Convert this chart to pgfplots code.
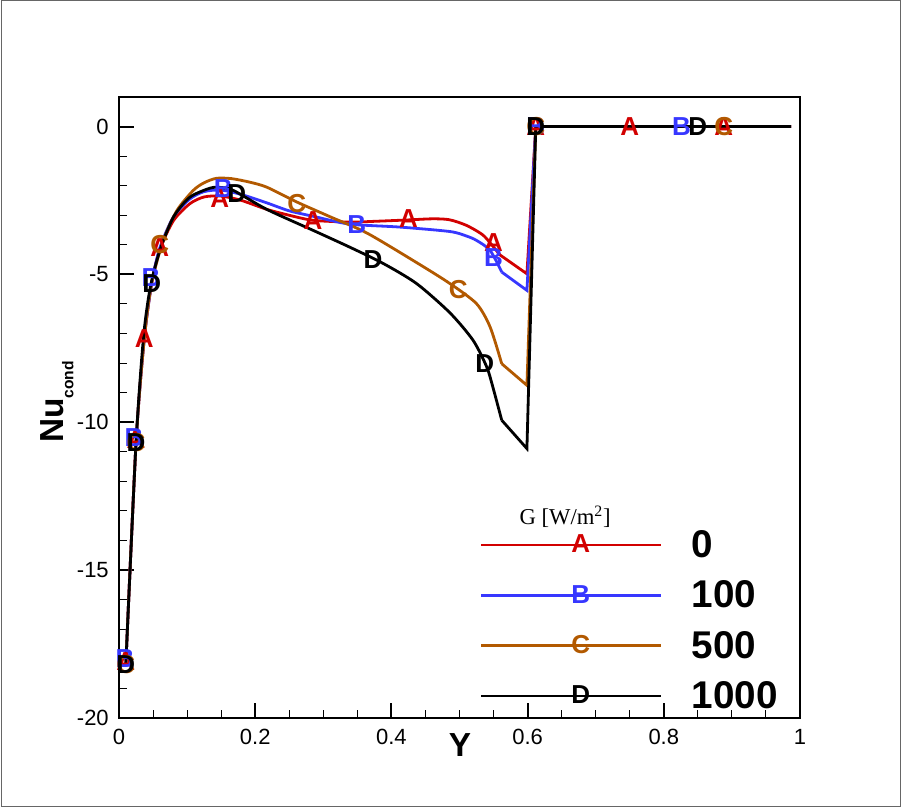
\documentclass[border=0pt]{standalone}
\usepackage{fontspec}
\setmainfont{Liberation Sans}
\newfontfamily\serifG{Liberation Serif}
\usepackage{pgfplots}
\pgfplotsset{compat=1.18}
\definecolor{cA}{RGB}{210,0,0}
\definecolor{cB}{RGB}{55,55,255}
\definecolor{cC}{RGB}{178,89,0}
\newcommand{\mkfont}{\bfseries\fontsize{19.5}{19.5}\selectfont}
\begin{document}
\begin{tikzpicture}
\useasboundingbox (0,0) rectangle (682.5pt,606.75pt);
\draw[black!60, line width=0.75pt] (0.75pt,1.5pt) rectangle (675pt,606pt);
\begin{axis}[
  at={(89.25pt,68.25pt)}, anchor=south west,
  scale only axis, width=510.75pt, height=465.75pt,
  xmin=0, xmax=1, ymin=-20, ymax=1,
  axis line style={line width=2pt},
  tick align=inside, xtick pos=bottom, ytick pos=left,
  xtick={0,0.2,0.4,0.6,0.8,1}, minor x tick num=3,
  ytick={-20,-15,-10,-5,0}, minor y tick num=4,
  major tick length=11.25pt, minor tick length=6pt,
  every major tick/.append style={line width=1.5pt, black},
  every minor tick/.append style={line width=0.75pt, black},
  /pgf/number format/assume math mode=true,
  ticklabel style={font=\fontsize{16.5}{16.5}\selectfont},
  xticklabel style={inner sep=0pt, yshift=-8.5pt},
  yticklabel style={inner sep=0pt, xshift=-7.5pt},
  xlabel={\bfseries Y},
  xlabel style={at={(axis description cs:0.5007,-0.0435)}, anchor=center, font=\fontsize{25}{25}\selectfont},
  ylabel={\bfseries Nu\raisebox{-7.5pt}{\fontsize{11.7}{11.7}\selectfont\bfseries cond}},
  ylabel style={at={(axis description cs:-0.091,0.509)}, anchor=center, font=\fontsize{25}{25}\selectfont},
  legend style={at={(axis description cs:0.530,0.157)}, anchor=west, draw=none, fill=none,
    inner sep=0pt, outer sep=0pt, column sep=22pt, row sep=16pt,
    font=\bfseries\fontsize{29}{29}\selectfont, nodes={inner sep=0pt}},
  legend cell align=left,
  legend image code/.code={\draw[mark repeat=2,mark phase=2,#1] plot coordinates {(0pt,0pt) (67.5pt,0pt) (135pt,0pt)};},
]
% ---- lines: smooth part ----
\addplot[cA, line width=2.1pt, no marks, smooth, tension=0.45, forget plot] table {
0.010 -18.2
0.025 -10.7
0.037 -7.2
0.048 -5.3
0.060 -4.15
0.080 -3.18
0.104 -2.61
0.125 -2.38
0.150 -2.35
0.180 -2.5
0.217 -2.80
0.250 -3.0
0.285 -3.17
0.339 -3.23
0.380 -3.2
0.422 -3.16
0.460 -3.12
0.485 -3.15
0.510 -3.34
0.535 -3.68
0.554 -4.19
};
\addplot[cA, line width=2.1pt, no marks, forget plot] table {
0.554 -4.19
0.560 -4.35
0.599 -4.98
0.612 0
0.987 0
};
\addplot[cB, line width=2.1pt, no marks, smooth, tension=0.45, forget plot] table {
0.010 -18.2
0.025 -10.7
0.037 -7.2
0.048 -5.3
0.060 -4.1
0.080 -3.05
0.104 -2.45
0.125 -2.2
0.150 -2.15
0.180 -2.3
0.217 -2.58
0.250 -2.85
0.290 -3.06
0.339 -3.30
0.413 -3.40
0.486 -3.55
0.510 -3.7
0.525 -3.85
0.545 -4.19
0.562 -4.92
};
\addplot[cB, line width=2.1pt, no marks, forget plot] table {
0.562 -4.92
0.599 -5.54
0.612 0
0.987 0
};
\addplot[cC, line width=2.1pt, no marks, smooth, tension=0.45, forget plot] table {
0.010 -18.2
0.025 -10.7
0.037 -7.2
0.048 -5.3
0.065 -3.85
0.085 -2.84
0.109 -2.16
0.125 -1.9
0.143 -1.75
0.165 -1.76
0.192 -1.88
0.217 -2.05
0.261 -2.55
0.310 -3.05
0.364 -3.6
0.437 -4.6
0.486 -5.31
0.525 -5.99
0.545 -6.78
0.562 -8.02
};
\addplot[cC, line width=2.1pt, no marks, forget plot] table {
0.562 -8.02
0.599 -8.75
0.612 0
0.987 0
};
\addplot[black, line width=2.1pt, no marks, smooth, tension=0.45, forget plot] table {
0.010 -18.2
0.025 -10.7
0.036 -7.12
0.046 -5.43
0.060 -4.19
0.080 -3.06
0.104 -2.39
0.134 -2.08
0.150 -2.06
0.168 -2.16
0.217 -2.8
0.285 -3.51
0.339 -4.08
0.388 -4.63
0.437 -5.31
0.486 -6.3
0.520 -7.23
0.540 -8.13
0.549 -8.81
0.562 -9.93
};
\addplot[black, line width=2.1pt, no marks, forget plot] table {
0.562 -9.93
0.599 -10.89
0.612 0
0.987 0
};
% ---- symbols ----
\addplot[cA, only marks, mark=text, text mark={A}, text mark as node=true, text mark style={font=\mkfont, inner sep=0pt}, forget plot] table {
0.010 -18.1
0.025 -10.6
0.037 -7.16
0.060 -4.09
0.148 -2.44
0.285 -3.18
0.425 -3.12
0.550 -3.91
0.612 0
0.750 0
0.888 0
};
\addplot[cB, only marks, mark=text, text mark={B}, text mark as node=true, text mark style={font=\mkfont, inner sep=0pt}, forget plot] table {
0.009 -18.0
0.022 -10.5
0.047 -5.1
0.153 -2.1
0.349 -3.32
0.550 -4.42
0.612 0
0.826 0
};
\addplot[cC, only marks, mark=text, text mark={C}, text mark as node=true, text mark style={font=\mkfont, inner sep=0pt}, forget plot] table {
0.010 -18.2
0.025 -10.7
0.060 -4.0
0.261 -2.6
0.498 -5.52
0.612 0
0.888 0
};
\addplot[black, only marks, mark=text, text mark={D}, text mark as node=true, text mark style={font=\mkfont, inner sep=0pt}, forget plot] table {
0.010 -18.2
0.025 -10.7
0.048 -5.3
0.173 -2.25
0.373 -4.5
0.537 -8.0
0.612 0
0.850 0
};
% ---- legend ----
\addlegendimage{cA, line width=2pt, mark=text, text mark={A}, text mark as node=true, text mark style={font=\mkfont, inner sep=0pt}}
\addlegendentry{0}
\addlegendimage{cB, line width=2pt, mark=text, text mark={B}, text mark as node=true, text mark style={font=\mkfont, inner sep=0pt}}
\addlegendentry{100}
\addlegendimage{cC, line width=2pt, mark=text, text mark={C}, text mark as node=true, text mark style={font=\mkfont, inner sep=0pt}}
\addlegendentry{500}
\addlegendimage{black, line width=2pt, mark=text, text mark={D}, text mark as node=true, text mark style={font=\mkfont, inner sep=0pt}}
\addlegendentry{1000}
\node[font=\serifG\fontsize{17}{17}\selectfont, inner sep=0pt] at (axis description cs:0.655,0.324) {G [W/m\textsuperscript{2}]};
\end{axis}
\end{tikzpicture}
\end{document}
